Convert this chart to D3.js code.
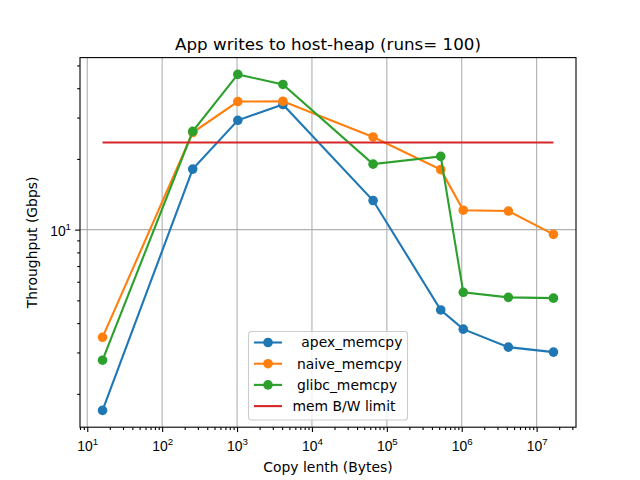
<!DOCTYPE html>
<html>
<head>
<meta charset="utf-8">
<script src="https://cdn.jsdelivr.net/npm/d3@7"></script>
<style>
  body { margin: 0; background: #fff; }
  svg { font-family: 'DejaVu Sans', sans-serif; }
  text { white-space: pre; }
</style>
</head>
<body>
<svg id="chart" width="640" height="480"></svg>
<script>
//
// Data
//
const copyLengths = [16, 256, 1024, 4096, 65536, 524288, 1048576, 4194304, 16777216];
const apexMemcpy = [1.70, 18.1, 29.2, 34.1, 13.3, 4.55, 3.77, 3.16, 3.01];
const naiveMemcpy = [3.48, 25.9, 35.1, 35.2, 24.8, 18.0, 12.1, 12.0, 9.55];
const glibcMemcpy = [2.78, 26.2, 45.8, 41.5, 19.0, 20.5, 5.41, 5.15, 5.11];
const memLimit = 23.5;

const seriesNames = ['  apex_memcpy', ' naive_memcpy', ' glibc_memcpy'];
const limitName = 'mem B/W limit';
const xMajorTicks = [1e1, 1e2, 1e3, 1e4, 1e5, 1e6, 1e7];
const yMajorTicks = [1e1];

const title = 'App writes to host-heap (runs= 100)';
const xLabel = 'Copy lenth (Bytes)';
const yLabel = 'Throughput (Gbps)';

const colors = ['#1f77b4', '#ff7f0e', '#2ca02c'];
const limitColor = '#d62728';

//
// Set-up
//
const margin = { left: 80, top: 57.6, right: 64, bottom: 52.8 };
const width = 640 - margin.left - margin.right;
const height = 480 - margin.top - margin.bottom;
const markerR = 4.8;

const svg = d3.select('#chart');
const wrapper = svg.append('g')
  .attr('transform', `translate(${margin.left},${margin.top})`);

const series = [apexMemcpy, naiveMemcpy, glibcMemcpy];

// matplotlib-like 5% padding in log space
function logDomain(values) {
  const lo = Math.log10(d3.min(values));
  const hi = Math.log10(d3.max(values));
  const pad = (hi - lo) * 0.05;
  return [Math.pow(10, lo - pad), Math.pow(10, hi + pad)];
}

const xScale = d3.scaleLog()
  .domain(logDomain(copyLengths))
  .range([0, width]);

const yScale = d3.scaleLog()
  .domain(logDomain(series.flat()))
  .range([height, 0]);

// minor ticks 2..9 for every decade inside domain
function minorTicks(scale) {
  const [a, b] = scale.domain();
  const out = [];
  for (let e = Math.floor(Math.log10(a)); e <= Math.ceil(Math.log10(b)); e++) {
    for (let m = 2; m <= 9; m++) {
      const v = m * Math.pow(10, e);
      if (v >= a && v <= b) out.push(v);
    }
  }
  return out;
}

//
// Grid
//
const grid = wrapper.append('g').attr('class', 'grid');
grid.selectAll('.gx')
  .data(xMajorTicks)
  .enter().append('line')
    .attr('x1', d => xScale(d)).attr('x2', d => xScale(d))
    .attr('y1', 0).attr('y2', height)
    .style('stroke', '#b0b0b0').style('stroke-width', 1.1);
grid.selectAll('.gy')
  .data(yMajorTicks)
  .enter().append('line')
    .attr('y1', d => yScale(d)).attr('y2', d => yScale(d))
    .attr('x1', 0).attr('x2', width)
    .style('stroke', '#b0b0b0').style('stroke-width', 1.1);

//
// Axes
//
function styleAxis(g) {
  g.select('.domain').remove();
  g.selectAll('line').style('stroke', '#000').style('stroke-width', 1.1);
}

wrapper.append('g')
  .attr('transform', `translate(0,${height})`)
  .call(d3.axisBottom(xScale).tickValues(minorTicks(xScale)).tickSize(2.8).tickFormat(''))
  .call(styleAxis);

const xAxisG = wrapper.append('g')
  .attr('transform', `translate(0,${height})`)
  .call(d3.axisBottom(xScale).tickValues(xMajorTicks).tickSize(4.9).tickFormat(''))
  .call(styleAxis);

wrapper.append('g')
  .call(d3.axisLeft(yScale).tickValues(minorTicks(yScale)).tickSize(2.8).tickFormat(''))
  .call(styleAxis);

const yAxisG = wrapper.append('g')
  .call(d3.axisLeft(yScale).tickValues(yMajorTicks).tickSize(4.9).tickFormat(''))
  .call(styleAxis);

// tick labels with superscript exponents
function powLabel(sel, d) {
  sel.append('tspan').text('10');
  sel.append('tspan')
    .attr('dy', -6).style('font-size', '9.7px')
    .text(Math.round(Math.log10(d)));
}

xAxisG.selectAll('.tick').each(function (d) {
  const t = d3.select(this).append('text')
    .attr('y', 24).attr('text-anchor', 'middle')
    .style('font-size', '13.9px').style('fill', '#000');
  powLabel(t, d);
});

yAxisG.selectAll('.tick').each(function (d) {
  const t = d3.select(this).append('text')
    .attr('x', -9).attr('y', 6).attr('text-anchor', 'end')
    .style('font-size', '13.9px').style('fill', '#000');
  powLabel(t, d);
});

// frame
wrapper.append('rect')
  .attr('width', width).attr('height', height)
  .style('fill', 'none').style('stroke', '#000').style('stroke-width', 1.1);

//
// Lines & markers
//
const line = d3.line()
  .x((d, i) => xScale(copyLengths[i]))
  .y(d => yScale(d));

series.forEach((values, k) => {
  const g = wrapper.append('g');
  g.append('path')
    .datum(values)
    .attr('d', line)
    .style('fill', 'none')
    .style('stroke', colors[k])
    .style('stroke-width', 2.1);
  g.selectAll('circle')
    .data(values)
    .enter().append('circle')
      .attr('cx', (d, i) => xScale(copyLengths[i]))
      .attr('cy', d => yScale(d))
      .attr('r', markerR)
      .style('fill', colors[k]);
});

// bandwidth limit
wrapper.append('line')
  .attr('x1', xScale(d3.min(copyLengths)))
  .attr('x2', xScale(d3.max(copyLengths)))
  .attr('y1', yScale(memLimit))
  .attr('y2', yScale(memLimit))
  .style('stroke', limitColor)
  .style('stroke-width', 2.1);

//
// Labels
//
svg.append('text')
  .attr('x', margin.left + width / 2).attr('y', 50)
  .attr('text-anchor', 'middle')
  .style('font-size', '16.7px')
  .text(title);

svg.append('text')
  .attr('x', margin.left + width / 2).attr('y', 472)
  .attr('text-anchor', 'middle')
  .style('font-size', '13.9px')
  .text(xLabel);

svg.append('text')
  .attr('transform', `translate(37,${margin.top + height / 2}) rotate(-90)`)
  .attr('text-anchor', 'middle')
  .style('font-size', '13.9px')
  .text(yLabel);

//
// Legend
//
const legendItems = seriesNames.map((n, i) => ({ name: n, color: colors[i], marker: true }))
  .concat([{ name: limitName, color: limitColor, marker: false }]);

const legend = svg.append('g').attr('transform', 'translate(248.5,331.5)');
legend.append('rect')
  .attr('width', 159).attr('height', 88.5)
  .attr('rx', 2.8)
  .style('fill', '#fff').style('fill-opacity', 0.8)
  .style('stroke', '#cccccc').style('stroke-width', 1.1);

const rowHeight = 21.2;
const legendRow = legend.selectAll('.legendRow')
  .data(legendItems)
  .enter().append('g')
  .attr('transform', (d, i) => `translate(0,${11 + i * rowHeight})`);

legendRow.append('line')
  .attr('x1', 5.5).attr('x2', 33.5)
  .style('stroke', d => d.color).style('stroke-width', 2.1);
legendRow.filter(d => d.marker).append('circle')
  .attr('cx', 19.5).attr('r', markerR)
  .style('fill', d => d.color);
legendRow.append('text')
  .attr('x', 44).attr('dy', '0.35em')
  .style('font-size', '13.9px')
  .text(d => d.name);
</script>
</body>
</html>
